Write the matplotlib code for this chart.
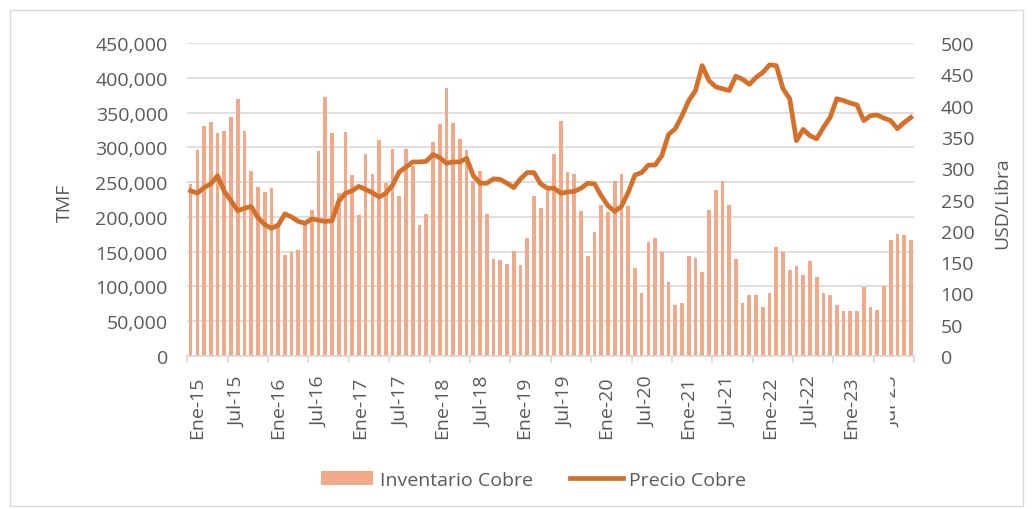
import matplotlib
matplotlib.use("Agg")
import matplotlib.pyplot as plt
import numpy as np
from matplotlib.patches import Rectangle
from matplotlib.transforms import Bbox, TransformedBbox

# Inventario de cobre (TMF), mensual Ene-15 .. Dic-23
INVENTARIO = [
    248000, 296000, 330000, 336000, 320000, 323000, 343000, 370000, 323000, 266000, 243000, 236000,
    241000, 190000, 145000, 149000, 152000, 190000, 210000, 295000, 372000, 320000, 234000, 322000,
    260000, 203000, 290000, 261000, 311000, 249000, 298000, 230000, 298000, 273000, 189000, 204000,
    307000, 333000, 385000, 335000, 312000, 296000, 252000, 266000, 204000, 139000, 138000, 132000,
    151000, 131000, 170000, 230000, 213000, 238000, 290000, 338000, 265000, 262000, 209000, 144000,
    179000, 217000, 207000, 251000, 261000, 216000, 126000, 90000, 164000, 170000, 149000, 107000,
    73000, 76000, 144000, 141000, 121000, 210000, 239000, 251000, 217000, 140000, 76000, 87000,
    87000, 71000, 90000, 156000, 149000, 124000, 130000, 117000, 136000, 113000, 90000, 87000,
    73000, 64000, 64000, 64000, 99000, 71000, 66000, 101000, 167000, 176000, 174000, 167000,
]

# Precio del cobre (USD/Libra, en centavos)
PRECIO = [
    264, 260, 269, 275, 288, 263, 248, 232, 236, 239, 221, 210,
    204, 209, 227, 222, 215, 212, 219, 217, 215, 216, 247, 260,
    264, 271, 266, 261, 254, 260, 273, 294, 302, 310, 310, 311,
    322, 317, 308, 310, 310, 316, 288, 276, 276, 283, 282, 276,
    269, 283, 293, 293, 275, 268, 268, 260, 262, 263, 268, 276,
    275, 256, 240, 231, 239, 261, 289, 293, 305, 305, 320, 354,
    363, 384, 408, 424, 464, 440, 430, 427, 424, 447, 442, 434,
    445, 453, 465, 464, 427, 411, 344, 362, 352, 347, 365, 381,
    411, 408, 404, 401, 376, 384, 385, 380, 376, 363, 373, 381,
]

TICK_LABELS = [
    "Ene-15", "Jul-15", "Ene-16", "Jul-16", "Ene-17", "Jul-17",
    "Ene-18", "Jul-18", "Ene-19", "Jul-19", "Ene-20", "Jul-20",
    "Ene-21", "Jul-21", "Ene-22", "Jul-22", "Ene-23", "Jul-23",
]

BAR = "#F1A98A"
LINE = "#D5702B"
GRID = "#D9D9D9"
TXT = "#595959"

plt.rcParams["font.family"] = ["Open Sans", "DejaVu Sans"]

fig = plt.figure(figsize=(10.34, 5.10), dpi=100)
fig.patches.append(Rectangle((10 / 1034, 3 / 510), 1013 / 1034, 496 / 510,
                             transform=fig.transFigure, fill=False,
                             edgecolor="#D9D9D9", lw=1))

ax = fig.add_axes([0.1811, 0.3000, 0.7031, 0.6137])
x = np.arange(len(INVENTARIO))
ax.bar(x, INVENTARIO, width=0.55, color=BAR, zorder=2, label="Inventario Cobre")
ax.set_xlim(-0.5, len(x) - 0.5)
ax.set_ylim(0, 450000)
ax.set_yticks(np.arange(0, 450001, 50000))
ax.yaxis.set_major_formatter(lambda v, p: f"{v:,.0f}")
ax.grid(axis="y", color=GRID, lw=1.2, zorder=0)
ax.set_axisbelow(True)
for s in ["top", "right", "left"]:
    ax.spines[s].set_visible(False)
ax.spines["bottom"].set_color(GRID)
ax.spines["bottom"].set_linewidth(1.2)
ax.tick_params(axis="y", length=0, pad=14, labelsize=14, labelcolor=TXT)

pos = np.arange(len(TICK_LABELS)) * 6 + 0.9 + np.arange(len(TICK_LABELS)) * 0.08
ax.set_xticks(pos)
ax.set_xticklabels(TICK_LABELS, rotation=90)
ax.tick_params(axis="x", which="major", length=0, pad=14, labelsize=14, labelcolor=TXT)
ax.set_xticks(np.arange(-0.5, len(x), 6), minor=True)
ax.tick_params(axis="x", which="minor", length=5, width=1.2, color=GRID)

ax2 = ax.twinx()
ax2.plot(x, PRECIO, color=LINE, lw=3.4, solid_joinstyle="round", label="Precio Cobre")
ax2.set_ylim(0, 500)
ax2.set_yticks(np.arange(0, 501, 50))
for s in ax2.spines.values():
    s.set_visible(False)
ax2.tick_params(axis="y", length=0, pad=19, labelsize=14, labelcolor=TXT)

# la última etiqueta aparece recortada
last = ax.get_xticklabels()[-1]
last.set_clip_box(TransformedBbox(Bbox([[890 / 1034, 0], [1, 1]]), fig.transFigure))
last.set_clip_on(True)

fig.text(65 / 1034, 1 - 203 / 510, "TMF", rotation=90, ha="center", va="center",
         fontsize=14, color=TXT)
fig.text(1002 / 1034, 1 - 203 / 510, "USD/Libra", rotation=90, ha="center", va="center",
         fontsize=14, color=TXT)

h1, l1 = ax.get_legend_handles_labels()
h2, l2 = ax2.get_legend_handles_labels()
fig.legend(h1 + h2, l1 + l2, loc="center", bbox_to_anchor=(0.516, 0.057), ncol=2,
           frameon=False, fontsize=14, labelcolor=TXT, handlelength=2.7,
           handleheight=0.7, handletextpad=0.35, columnspacing=1.9)

fig.savefig("out.png", dpi=100)
